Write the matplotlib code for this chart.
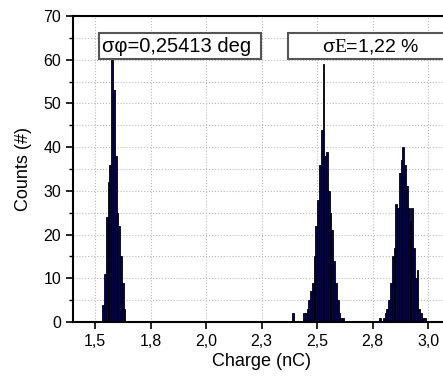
import matplotlib
matplotlib.use("Agg")
import matplotlib.pyplot as plt
import numpy as np
from matplotlib.patches import Rectangle

plt.rcParams['font.family'] = ['Liberation Sans', 'DejaVu Sans']
plt.rcParams['mathtext.fontset'] = 'custom'
plt.rcParams['mathtext.rm'] = 'Liberation Serif'

# histogram data: bin width and first bin centre of each peak, then counts
largura_bin = 0.008

inicio_pico1 = 1.536
contagens_pico1 = [4, 11, 24, 32, 36, 60, 53, 38, 25, 22, 15, 9, 3]

inicio_pico2 = 2.392
contagens_pico2 = [2, 0, 0, 0, 0, 0,
                   2, 2, 3, 5, 7, 9, 15, 22, 28, 36, 44, 59, 38, 39, 30, 25,
                   21, 14, 9, 5, 2, 1, 1]

inicio_pico3 = 2.784
contagens_pico3 = [1, 0, 1, 2, 3, 5, 9, 15, 17, 27, 26, 34, 37, 40, 36, 31,
                   26, 23, 26, 17, 10, 12, 3, 2, 1, 1]

ticks_x = [1.5, 1.75, 2.0, 2.25, 2.5, 2.75, 3.0]
rotulos_x = ['1,5', '1,8', '2,0', '2,3', '2,5', '2,8', '3,0']
ticks_y = [0, 10, 20, 30, 40, 50, 60, 70]

texto_phi = 'σφ=0,25413 deg'
texto_E = 'σ$\\mathrm{E}$=1,22 %'

fig = plt.figure(figsize=(4.43, 3.76), dpi=100)
ax = fig.add_axes([73 / 443, 54 / 376, (3.1 - 1.4) * 222 / 443, 306 / 376])

for inicio, contagens in [(inicio_pico1, contagens_pico1),
                          (inicio_pico2, contagens_pico2),
                          (inicio_pico3, contagens_pico3)]:
    centros = inicio + largura_bin * np.arange(len(contagens))
    ax.bar(centros, contagens, width=largura_bin, color='#000068',
           edgecolor='black', linewidth=0.6, zorder=2)

ax.set_xlim(1.4, 3.1)
ax.set_ylim(0, 70)
ax.set_xticks(ticks_x)
ax.set_xticklabels(rotulos_x)
ax.set_yticks(ticks_y)
ax.set_yticks(np.arange(5, 70, 10), minor=True)
ax.tick_params(axis='both', which='major', labelsize=11.5, length=5, width=1.2, direction='out')
ax.tick_params(axis='y', which='minor', length=3, width=1.0, direction='out')
ax.grid(True, which='major', color='#bbbbbb', linestyle=':', linewidth=0.8, zorder=0)
ax.grid(True, which='minor', axis='y', color='#bbbbbb', linestyle=':', linewidth=0.8, zorder=0)
ax.set_axisbelow(True)
for lado in ['left', 'bottom', 'top']:
    ax.spines[lado].set_linewidth(1.5)
ax.spines['right'].set_visible(False)

ax.set_xlabel('Charge (nC)', fontsize=13, labelpad=3)
ax.set_ylabel('Counts (#)', fontsize=13, labelpad=8)

# caixas de texto
ax.add_patch(Rectangle((1.518, 60.1), 0.729, 6.1, facecolor='white',
                       edgecolor='#555555', linewidth=1.5, zorder=4))
ax.add_patch(Rectangle((2.369, 60.1), 1.0, 6.1, facecolor='white',
                       edgecolor='#555555', linewidth=1.5, zorder=4))
ax.text(1.530, 63.1, texto_phi, fontsize=14.5, va='center', ha='left', zorder=5)
ax.text(2.742, 63.1, texto_E, fontsize=14, va='center', ha='center', zorder=5)

fig.savefig('out.png', dpi=100)
